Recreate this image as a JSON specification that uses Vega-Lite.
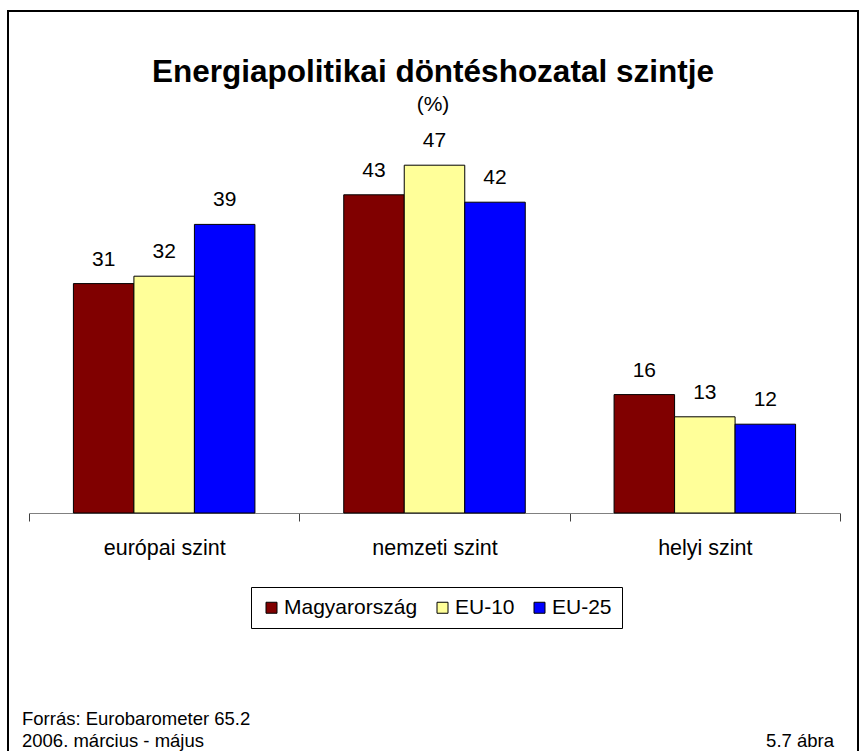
{
  "$schema": "https://vega.github.io/schema/vega-lite/v6.json",
  "width": 850,
  "height": 741,
  "autosize": {"type": "none"},
  "padding": {"left": 8, "top": 11, "right": 1, "bottom": -1},
  "background": "white",
  "config": {
    "font": "Liberation Sans",
    "view": {"stroke": "black", "strokeWidth": 2}
  },
  "title": {
    "text": "Energiapolitikai döntéshozatal szintje",
    "subtitle": "(%)",
    "anchor": "middle",
    "frame": "group",
    "orient": "top",
    "offset": -104,
    "font": "Liberation Sans",
    "fontSize": 31.5,
    "fontWeight": "bold",
    "color": "black",
    "subtitleFont": "Liberation Sans",
    "subtitleFontSize": 21,
    "subtitleColor": "black",
    "subtitlePadding": 6
  },
  "data": {
    "values": [
      {"szint": "európai szint", "terulet": "Magyarország", "ertek": 31},
      {"szint": "európai szint", "terulet": "EU-10", "ertek": 32},
      {"szint": "európai szint", "terulet": "EU-25", "ertek": 39},
      {"szint": "nemzeti szint", "terulet": "Magyarország", "ertek": 43},
      {"szint": "nemzeti szint", "terulet": "EU-10", "ertek": 47},
      {"szint": "nemzeti szint", "terulet": "EU-25", "ertek": 42},
      {"szint": "helyi szint", "terulet": "Magyarország", "ertek": 16},
      {"szint": "helyi szint", "terulet": "EU-10", "ertek": 13},
      {"szint": "helyi szint", "terulet": "EU-25", "ertek": 12}
    ]
  },
  "layer": [
    {
      "mark": {"type": "bar", "stroke": "black", "strokeWidth": 1},
      "encoding": {
        "x": {
          "field": "szint",
          "type": "nominal",
          "sort": null,
          "scale": {"domain": ["európai szint", "nemzeti szint", "helyi szint"], "range": [21, 832], "paddingInner": 0, "paddingOuter": 0},
          "axis": {
            "title": null,
            "offset": -239,
            "domainColor": "#808080",
            "domainWidth": 1,
            "tickColor": "#404040",
            "tickSize": 8,
            "tickWidth": 1,
            "tickBand": "extent",
            "labelFont": "Liberation Sans",
            "labelFontSize": 21.5,
            "labelColor": "black",
            "labelPadding": 33,
            "labelBaseline": "alphabetic",
            "labelAngle": 0
          }
        },
        "xOffset": {
          "field": "terulet",
          "type": "nominal",
          "sort": null,
          "scale": {"domain": ["Magyarország", "EU-10", "EU-25"], "paddingInner": 0, "paddingOuter": 0.734}
        },
        "y": {
          "field": "ertek",
          "type": "quantitative",
          "scale": {"domain": [0, 50], "range": [502, 132]},
          "axis": null
        },
        "color": {
          "field": "terulet",
          "type": "nominal",
          "sort": null,
          "scale": {"domain": ["Magyarország", "EU-10", "EU-25"], "range": ["#800000", "#FFFF99", "#0000FF"]},
          "legend": {
            "orient": "none",
            "legendX": 243,
            "legendY": 576,
            "direction": "horizontal",
            "title": null,
            "strokeColor": "black",
            "fillColor": "white",
            "padding": 10,
            "symbolType": "square",
            "symbolSize": 121,
            "symbolStrokeColor": "black",
            "symbolStrokeWidth": 1,
            "symbolOpacity": 1,
            "labelFont": "Liberation Sans",
            "labelFontSize": 21,
            "labelColor": "black",
            "labelOffset": 2,
            "columnPadding": 14
          }
        }
      }
    },
    {
      "mark": {"type": "text", "baseline": "alphabetic", "dy": -18, "fontSize": 21, "font": "Liberation Sans", "color": "black"},
      "encoding": {
        "x": {"field": "szint", "type": "nominal", "sort": null},
        "xOffset": {"field": "terulet", "type": "nominal", "sort": null},
        "y": {"field": "ertek", "type": "quantitative"},
        "text": {"field": "ertek", "type": "quantitative"}
      }
    },
    {
      "data": {
        "values": [
          {"szint": "európai szint", "sor": -28.6, "szoveg": "Forrás: Eurobarometer 65.2"},
          {"szint": "európai szint", "sor": -31.6, "szoveg": "2006. március - május"}
        ]
      },
      "mark": {"type": "text", "align": "left", "baseline": "alphabetic", "dx": -7, "fontSize": 18.5, "font": "Liberation Sans", "color": "black"},
      "encoding": {
        "x": {"field": "szint", "type": "nominal", "bandPosition": 0},
        "y": {"field": "sor", "type": "quantitative"},
        "text": {"field": "szoveg", "type": "nominal"}
      }
    },
    {
      "data": {
        "values": [
          {"szint": "helyi szint", "sor": -31.6, "szoveg": "5.7 ábra"}
        ]
      },
      "mark": {"type": "text", "align": "right", "baseline": "alphabetic", "dx": -6, "fontSize": 18.5, "font": "Liberation Sans", "color": "black"},
      "encoding": {
        "x": {"field": "szint", "type": "nominal", "bandPosition": 1},
        "y": {"field": "sor", "type": "quantitative"},
        "text": {"field": "szoveg", "type": "nominal"}
      }
    }
  ]
}
